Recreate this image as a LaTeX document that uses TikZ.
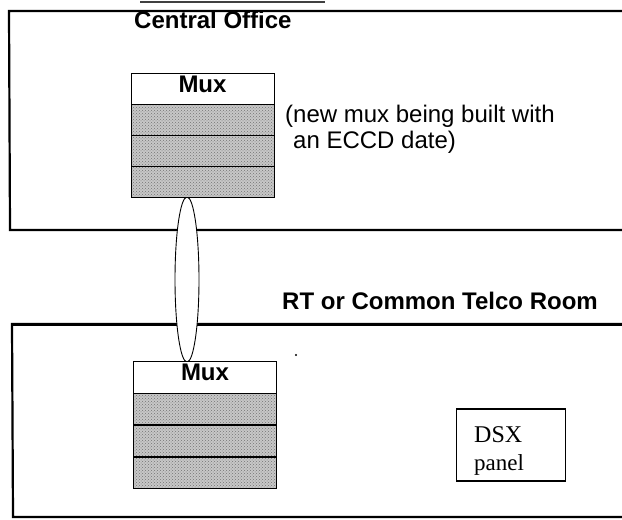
\documentclass[tikz,border=0pt]{standalone}
\usepackage{fontspec}
\setmainfont{Liberation Sans}
\newfontfamily\dsxfont{Liberation Serif}
\usetikzlibrary{shapes.geometric,patterns}

\tikzset{
  wall/.style={line width=2.2pt, line cap=rect},
  muxhead/.style={draw, line width=1.4pt, fill=white, rectangle,
    minimum width=143pt, minimum height=31pt, inner sep=0pt, anchor=north west},
  muxslot/.style={draw, line width=1.4pt, rectangle,
    preaction={fill=black!22}, pattern=crosshatch dots, pattern color=black!55,
    minimum width=143pt, minimum height=31pt, inner sep=0pt, anchor=north west},
  label/.style={inner sep=0pt, anchor=base west, font=\fontsize{24}{26}\selectfont},
  boldlabel/.style={label, font=\fontsize{24}{26}\selectfont\bfseries},
  muxtext/.style={inner sep=0pt, anchor=base, font=\fontsize{24}{26}\selectfont\bfseries},
  panel/.style={draw, line width=1.6pt, rectangle, minimum width=109pt,
    minimum height=72pt, inner sep=0pt},
  cable/.style={draw, ellipse, line width=0.9pt, fill=white,
    minimum width=24pt, minimum height=165pt, inner sep=0pt}
}

\begin{document}
\begin{tikzpicture}[x=1pt, y=-1pt]
\useasboundingbox (0,0) rectangle (622,520);

% short rule along the top edge
\draw[line width=1.3pt, black!75] (140,2) -- (325,2);

% Central Office room (open to the right)
\draw[wall] (630,11) -- (9,11) -- (10,230) -- (630,230);
% RT / Common Telco room (open to the right)
\draw[wall] (630,517) -- (13,517) -- (12,324) -- (630,324);
\draw[line width=3pt] (12,324) -- (630,324);

% cable bundle between the two muxes
\node[cable] (link) at (187,279.5) {};

% Central Office mux
\node[muxhead] (cohead) at (131,73) {};
\node[muxslot] (coslot1) at (131,104) {};
\node[muxslot] (coslot2) at (131,135) {};
\node[muxslot] (coslot3) at (131,166) {};
\node[muxtext] (comux) at (202.5,92) {Mux};

% RT mux
\node[muxhead, minimum height=32pt] (rthead) at (133,361) {};
\node[muxslot] (rtslot1) at (133,393) {};
\node[muxslot] (rtslot2) at (133,425) {};
\node[muxslot] (rtslot3) at (133,457) {};
\node[muxtext] (rtmux) at (205,380) {Mux};

% room titles and note
\node[boldlabel] (cotitle) at (134,28) {Central Office};
\node[boldlabel] (rttitle) at (282,309) {RT or Common Telco Room};
\node[label] (note1) at (285,122) {(new mux being built with};
\node[label] (note2) at (293,148) {an ECCD date)};

% DSX panel
\node[panel] (dsx) at (511,445) {};
\node[inner sep=0pt, anchor=base west, font=\dsxfont\fontsize{24}{26}\selectfont] (dsx1) at (474,442) {DSX};
\node[inner sep=0pt, anchor=base west, font=\dsxfont\fontsize{23}{26}\selectfont] (dsx2) at (474,470) {panel};

% small speck
\fill (296,355) circle (1.1pt);
\end{tikzpicture}
\end{document}
